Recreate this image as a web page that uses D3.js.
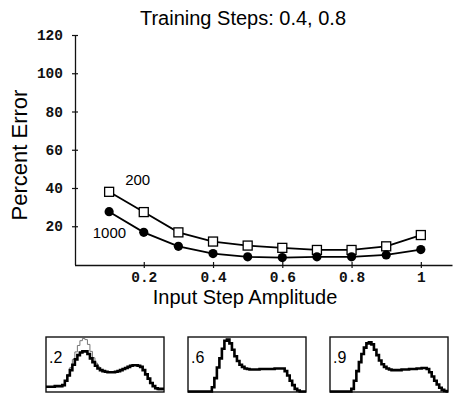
<!DOCTYPE html>
<html>
<head>
<meta charset="utf-8">
<script src="https://cdn.jsdelivr.net/npm/d3@7"></script>
<style>
  body { margin: 0; background: #fff; }
  svg { display: block; }
</style>
</head>
<body>
<div id="chart"></div>
<script>

/* main chart data */
let amplitudes = [0.1, 0.2, 0.3, 0.4, 0.5, 0.6, 0.7, 0.8, 0.9, 1.0];
let err200  = [38, 27.4, 16.8, 12, 9.9, 8.7, 7.6, 7.6, 9.5, 15.4];
let err1000 = [27.6, 16.8, 9.5, 5.7, 4, 3.6, 4, 4, 5, 7.8];
let yTicks = [20, 40, 60, 80, 100, 120];
let xTicks = [0.2, 0.4, 0.6, 0.8, 1];

/* inset traces, 48 samples each, as a fraction of box height */
let insetLabels = [".2", ".6", ".9"];
let trace2 = [0.09,0.09,0.09,0.09,0.10,0.10,0.10,
  0.12,0.2,0.3,0.4,0.5,0.6,0.68,0.73,0.75,
  0.75,0.7,0.62,0.55,0.48,0.43,0.40,0.38,0.37,0.36,0.36,0.36,
  0.37,0.38,0.40,0.42,0.44,0.46,0.48,0.49,0.49,
  0.48,0.46,0.4,0.32,0.24,0.16,0.1,0.06,0.05,0.05,0.05];
let target2 = [0.08,0.08,0.08,0.08,0.09,0.09,0.09,
  0.11,0.2,0.32,0.45,0.6,0.74,0.86,0.95,
  0.99,0.97,0.88,0.75,0.63,0.53,0.46,0.41,
  0.38,0.37,0.36,0.36,0.36,0.37,0.38,0.40,0.42,0.45,0.47,0.49,0.50,0.50,
  0.49,0.47,0.41,0.33,0.25,0.17,0.1,0.05,0.03,0.03,0.03];
let trace6 = [0,0,0,0,0,0,0,0,0,0,
  0.08,0.25,0.45,0.62,0.8,0.95,0.97,
  0.9,0.78,0.66,0.57,0.5,0.46,0.43,0.42,
  0.41,0.41,0.41,0.41,0.42,0.42,0.42,0.42,0.42,0.42,0.43,0.43,0.43,0.43,
  0.38,0.3,0.2,0.12,0.05,0.02,
  0,0,0];
let trace9 = [0,0,0,0,0,0,0,0,0,
  0.05,0.2,0.38,0.55,0.7,0.82,0.9,0.92,
  0.88,0.78,0.68,0.58,0.51,0.46,0.43,0.41,0.40,
  0.40,0.40,0.40,0.41,0.41,0.41,0.42,0.42,0.42,0.43,0.43,0.44,0.44,
  0.42,0.36,0.28,0.2,0.13,0.07,0.03,0.01,0];

let width = 459;
let height = 402;
let sansFont = "'Liberation Sans', Arial, Helvetica, sans-serif";
let monoFont = "'Liberation Mono', 'Courier New', monospace";

let svg = d3.select("#chart")
            .append("svg")
              .attr("width", width)
              .attr("height", height);

let xScale = d3.scaleLinear()
               .domain([0, 1.09])
               .range([74.5, 452]);

let yScale = d3.scaleLinear()
               .domain([0, 120])
               .range([264.5, 35]);

// title
svg.append("text")
   .attr("x", 243)
   .attr("y", 25)
   .attr("text-anchor", "middle")
   .style("font-family", sansFont)
   .style("font-size", "20px")
   .text("Training Steps: 0.4, 0.8");

// axes
let yAxis = svg.append("g")
   .attr("transform", "translate(75, 0)")
   .call(d3.axisLeft(yScale).tickValues(yTicks).tickSizeOuter(0).tickPadding(6));

let xAxis = svg.append("g")
   .attr("transform", "translate(0, 265)")
   .call(d3.axisBottom(xScale).tickValues(xTicks).tickSizeOuter(0).tickPadding(1)
           .tickFormat(d => d === 1 ? "1" : d3.format(".1f")(d)));

// ticks cross the axis line
yAxis.selectAll(".tick line").attr("x1", -3).attr("x2", 3);
xAxis.selectAll(".tick line").attr("y1", -3).attr("y2", 3);

[yAxis, xAxis].forEach(ax => {
  ax.select(".domain").attr("stroke", "#111").attr("stroke-width", 1.3);
  ax.selectAll(".tick line").attr("stroke", "#111").attr("stroke-width", 1.2);
  ax.selectAll("text")
    .attr("fill", "#111")
    .style("font-family", monoFont)
    .style("font-weight", "bold")
    .style("font-size", "14.5px");
});

// axis titles
svg.append("text")
   .attr("transform", "translate(27, 155) rotate(-90)")
   .attr("text-anchor", "middle")
   .style("font-family", sansFont)
   .style("font-size", "22px")
   .text("Percent Error");

svg.append("text")
   .attr("x", 245)
   .attr("y", 304)
   .attr("text-anchor", "middle")
   .style("font-family", sansFont)
   .style("font-size", "20px")
   .text("Input Step Amplitude");

// series lines
let line = d3.line()
             .x((d, i) => xScale(amplitudes[i]))
             .y(d => yScale(d));

[err200, err1000].forEach(series => {
  svg.append("path")
     .datum(series)
     .attr("d", line)
     .attr("fill", "none")
     .attr("stroke", "#000")
     .attr("stroke-width", 1.8);
});

svg.append("g")
   .selectAll("rect")
   .data(err200)
   .enter()
   .append("rect")
     .attr("x", (d, i) => xScale(amplitudes[i]) - 4.5)
     .attr("y", d => yScale(d) - 4.5)
     .attr("width", 9)
     .attr("height", 9)
     .attr("fill", "#fff")
     .attr("stroke", "#000")
     .attr("stroke-width", 1.3);

svg.append("g")
   .selectAll("circle")
   .data(err1000)
   .enter()
   .append("circle")
     .attr("cx", (d, i) => xScale(amplitudes[i]))
     .attr("cy", d => yScale(d))
     .attr("r", 4.6)
     .attr("fill", "#000");

// series labels
svg.append("text")
   .attr("x", xScale(amplitudes[0]) + 16)
   .attr("y", yScale(err200[0]) - 7)
   .style("font-family", sansFont)
   .style("font-size", "15px")
   .text("200");

svg.append("text")
   .attr("x", xScale(amplitudes[0]) + 17)
   .attr("y", yScale(err1000[0]) + 26)
   .attr("text-anchor", "end")
   .style("font-family", sansFont)
   .style("font-size", "15px")
   .text("1000");

/* insets */
let boxW = 118;
let boxH = 55;
let boxX = [46, 188, 330];
let boxY = 337;
let traces = [[target2, trace2], [trace6], [trace9]];

let ixScale = d3.scaleLinear().domain([0, 47]).range([0, boxW]);
let iyScale = d3.scaleLinear().domain([0, 1]).range([boxH - 0.5, 1]);

let insetLine = d3.line()
                  .x((d, i) => ixScale(i))
                  .y(d => iyScale(d))
                  .curve(d3.curveStep);

insetLabels.forEach((lab, k) => {
  let g = svg.append("g")
             .attr("transform", `translate(${boxX[k]}, ${boxY})`);

  g.append("rect")
   .attr("width", boxW)
   .attr("height", boxH)
   .attr("fill", "none")
   .attr("stroke", "#111")
   .attr("stroke-width", 1.4);

  traces[k].forEach((tr, j) => {
    let thin = traces[k].length > 1 && j === 0;
    g.append("path")
     .datum(tr)
     .attr("d", insetLine)
     .attr("fill", "none")
     .attr("stroke", thin ? "#777" : "#000")
     .attr("stroke-width", thin ? 1 : 2.6);
  });

  g.append("text")
   .attr("x", 3)
   .attr("y", 26)
   .style("font-family", sansFont)
   .style("font-size", "16px")
   .text(lab);
});

</script>
</body>
</html>
